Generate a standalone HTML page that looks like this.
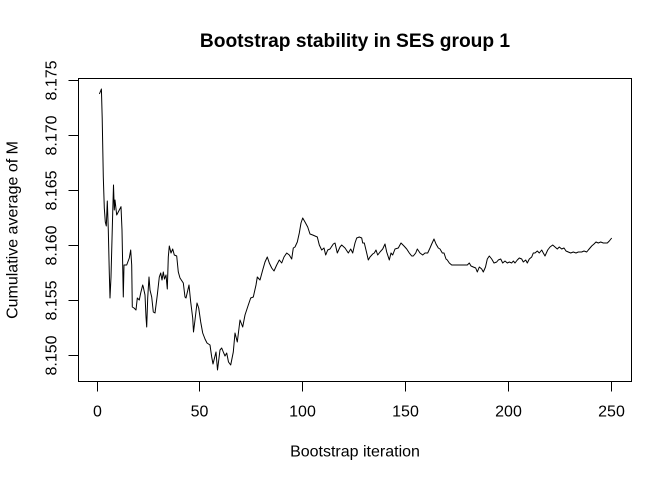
<!DOCTYPE html>
<html>
<head>
<meta charset="utf-8">
<style>
html,body{margin:0;padding:0;background:#fff;}
svg{display:block;}
text{font-family:"Liberation Sans",Arial,sans-serif;fill:#000;}
</style>
</head>
<body>
<svg width="672" height="480" viewBox="0 0 672 480" xmlns="http://www.w3.org/2000/svg">
<rect x="0" y="0" width="672" height="480" fill="#fff"/>
<!-- title -->
<text x="355" y="47" font-size="19.2" font-weight="bold" text-anchor="middle">Bootstrap stability in SES group 1</text>
<!-- box -->
<rect x="78.5" y="78.5" width="553" height="303" fill="none" stroke="#000" stroke-width="1"/>
<!-- x axis -->
<g stroke="#000" stroke-width="1" fill="none">
<line x1="97.5" y1="381.5" x2="611.5" y2="381.5"/>
<line x1="97.5" y1="381.5" x2="97.5" y2="391.5"/>
<line x1="199.5" y1="381.5" x2="199.5" y2="391.5"/>
<line x1="302.5" y1="381.5" x2="302.5" y2="391.5"/>
<line x1="405.5" y1="381.5" x2="405.5" y2="391.5"/>
<line x1="508.5" y1="381.5" x2="508.5" y2="391.5"/>
<line x1="611.5" y1="381.5" x2="611.5" y2="391.5"/>
</g>
<g font-size="16" text-anchor="middle">
<text x="97.5" y="416.5">0</text>
<text x="199.5" y="416.5">50</text>
<text x="302.5" y="416.5">100</text>
<text x="405.5" y="416.5">150</text>
<text x="508.5" y="416.5">200</text>
<text x="611.5" y="416.5">250</text>
</g>
<text x="355" y="456.5" font-size="16" text-anchor="middle">Bootstrap iteration</text>
<!-- y axis -->
<g stroke="#000" stroke-width="1" fill="none">
<line x1="78.5" y1="80.5" x2="78.5" y2="355.5"/>
<line x1="68.5" y1="80.5" x2="78.5" y2="80.5"/>
<line x1="68.5" y1="135.5" x2="78.5" y2="135.5"/>
<line x1="68.5" y1="190.5" x2="78.5" y2="190.5"/>
<line x1="68.5" y1="245.5" x2="78.5" y2="245.5"/>
<line x1="68.5" y1="300.5" x2="78.5" y2="300.5"/>
<line x1="68.5" y1="355.5" x2="78.5" y2="355.5"/>
</g>
<g font-size="16" text-anchor="middle">
<text transform="translate(56.5,80.5) rotate(-90)">8.175</text>
<text transform="translate(56.5,135.5) rotate(-90)">8.170</text>
<text transform="translate(56.5,190.5) rotate(-90)">8.165</text>
<text transform="translate(56.5,245.5) rotate(-90)">8.160</text>
<text transform="translate(56.5,300.5) rotate(-90)">8.155</text>
<text transform="translate(56.5,355.5) rotate(-90)">8.150</text>
</g>
<text transform="translate(17.5,230) rotate(-90)" font-size="16" text-anchor="middle">Cumulative average of M</text>
<!-- series -->
<polyline fill="none" stroke="#000" stroke-width="1" stroke-linejoin="round" points="
99.4,94 101.4,89 102.2,118 103.3,177 104.3,208 105.3,222 106.3,226 107.3,201 108.3,230 109.3,273 110,298 111,277 112.7,213 113.5,185 114.3,210 115,200 116.7,215 119.3,210 121,206.7 122,230 123.3,297 124,265 126.7,265 129.3,258 130.7,250 131.7,265 132.3,307 134,308 136,310 137.3,298 139.3,300 140.7,293 142.7,285 143.3,287 145,295 146,317 146.7,327 147.7,298 149,277 150,290 151.7,297 153.3,312 155,313 157.3,295 159.3,277 160.7,273 162,280 163.3,272 164.5,279 166,275 167.3,289 168.3,257 169.3,246 171,253 172.7,249 174.3,255 176.7,256 178.3,272 180,278 183.3,283 185,297 186,298 189,285 190.7,302 192.7,318 193.5,332 195,320 197,303 198.7,308 200.7,322 202.7,333 205,339 207,343 210,345 211.7,357 213,364 216,352 217.5,370 220,350 221.7,348 223.3,352 225,356 226.7,353 228.5,362 230.7,365 233.3,352 235,333 237.3,342 240,320 242.7,327 245,315 248.3,305 250.7,298 253.3,297 256,285 257.3,277 260,280 262.7,270 265,262 267.3,257 269.3,263 271.7,268 274,271 276.7,265 279.3,260 281.7,263 284,257 286.7,253 289.3,255 291.7,259 293.3,248 295,247 297.3,242 299.3,233 301,223 302.7,218 305,222 307.7,227 310,234 312.7,235 315,236 317.3,237 319.3,245 321.7,250 324,248 325.7,255 327.7,250 330,249 333.3,244 335,243 337.3,253 340,247 341.7,245 345,248 348.3,253 350.7,249 352.7,253 355,243 356.7,238 359.3,237 361.7,238 362.7,243 364.3,243 366.7,253 368.3,260 370,257 372.7,254 374.3,253 376,250 377.7,255 380,252 382.7,249 385,244 386.7,252 389.3,260 391,253 392.7,255 395,249 398.3,248 401,243 404,246 406.7,249 409.3,253 411.7,256 413.3,256 415.7,253 417.3,249 420,253 422.7,255 425,253 427.7,253 430,248 431.7,244 434,239 436,244 438.3,248 440,249 442.3,253 444,253 446,259 447.3,260 449.3,263 451.7,265 467.3,265 469.3,263 471,266 473.3,267 475.7,268 477.3,272 479.3,267 481.7,269 483.3,272 485.5,267 487.3,259 489.3,256 491.7,259 494,263 496.7,262 498.3,260 500.7,259 502.7,263 505,261 507.3,263 509.3,262 511.7,263 513.3,261 515,263 517.3,260 519.3,258 521.7,259 523.3,262 525.7,260 527.3,263 529.3,259 531.7,257 533.3,253 535,253 537.3,251 539.3,253 541.7,250 543.3,253 545,256 547.7,250 550,247 552.7,245 555,247 557.3,249 559.3,247 561.7,249 564,248 566,251 568.3,252 570.7,253 573.3,252 576,253 578.3,252 581.7,252 584,251 586.7,252 588.3,250 590,248 591.7,246 594,244 596,242 598.3,243 600.7,242 603.3,243 607.3,243 609.3,241 611.7,238"/>
</svg>
</body>
</html>
